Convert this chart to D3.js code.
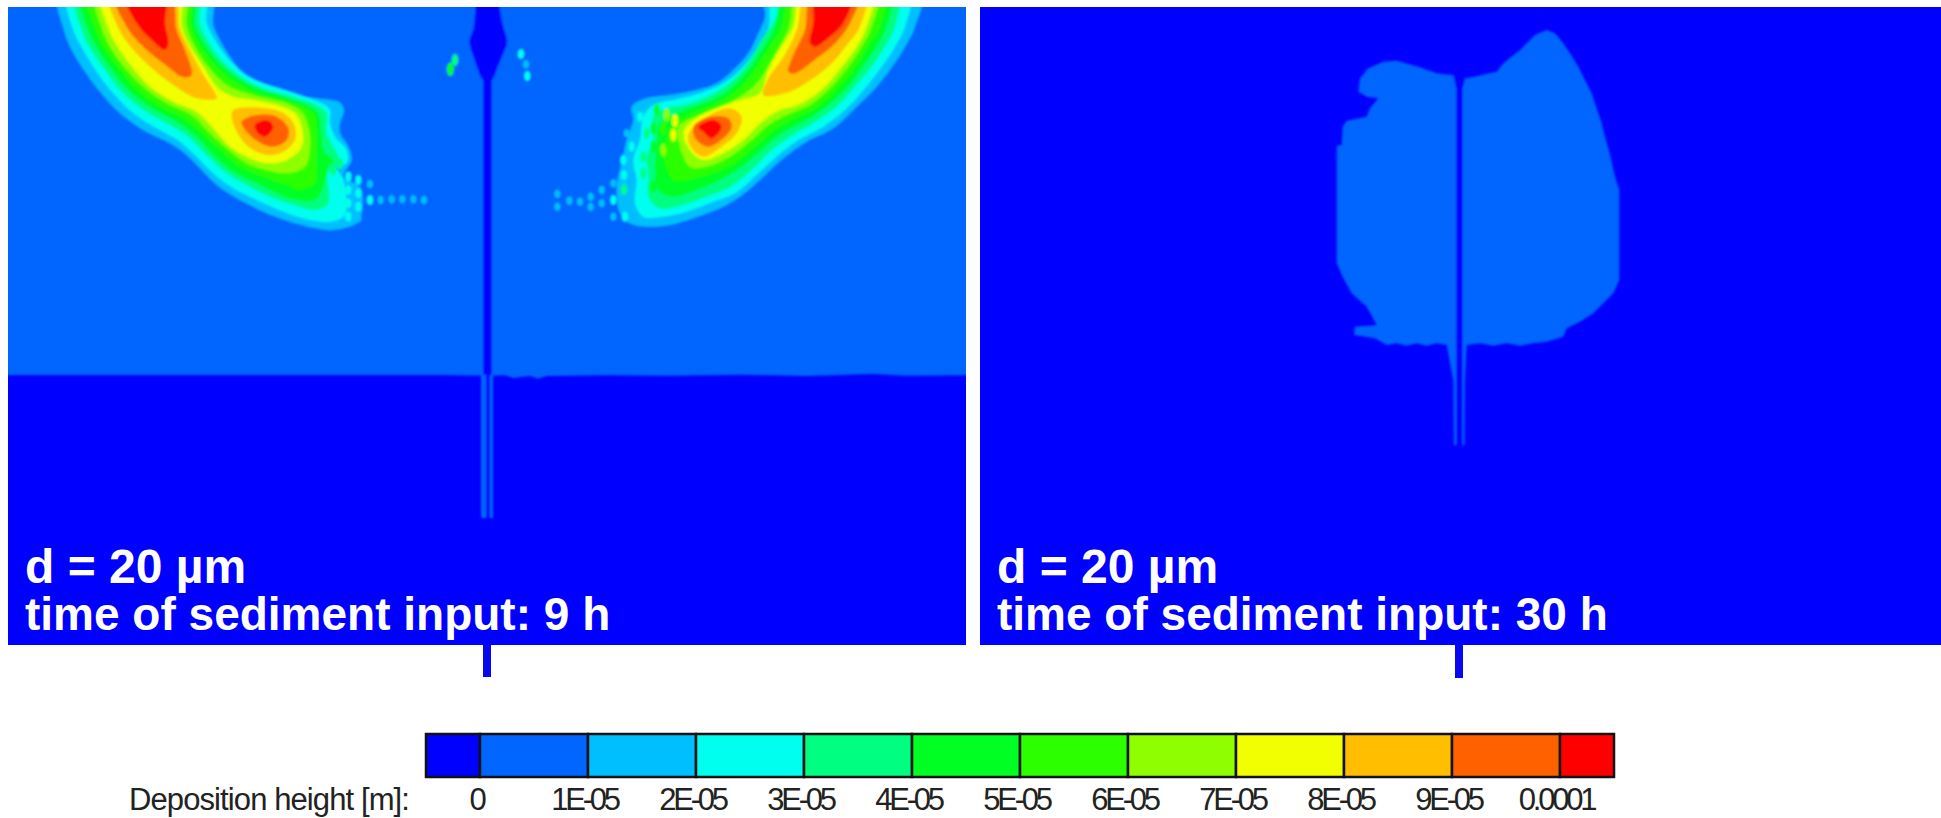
<!doctype html>
<html lang="en">
<head>
<meta charset="utf-8">
<script src="https://d3js.org/d3.v7.min.js"></script>
<style>
  body { margin: 0; background: #fff; }
  svg { display: block; }
  text { font-family: "Liberation Sans", Arial, sans-serif; }
</style>
</head>
<body>
<div id="chart"></div>
<script>
// contour levels and legend
var levels = [0, 1e-5, 2e-5, 3e-5, 4e-5, 5e-5, 6e-5, 7e-5, 8e-5, 9e-5, 1e-4];
var palette = ['#0000ff', '#0066ff', '#00bfff', '#00ffee', '#00ff80', '#00ff22', '#2bff00', '#8fff00', '#f2ff00', '#ffbf00', '#ff6000', '#ff0000'];
var tickLabels = ['0', '1E-05', '2E-05', '3E-05', '4E-05', '5E-05', '6E-05', '7E-05', '8E-05', '9E-05', '0.0001'];
var legendTitle = 'Deposition height [m]:';
var notes = [['d = 20 µm', 'time of sediment input: 9 h'], ['d = 20 µm', 'time of sediment input: 30 h']];

// contours, in sheet units (3 per pixel of the crop they were read on)
// left panel, left crescent
var leftL2 = [[178,-20],[190,85],[215,150],[255,215],[300,275],[355,335],[430,390],[510,430],[560,465],[610,515],[650,555],[720,600],[790,635],[870,665],[950,685],[1000,690],[1070,670],[1085,640],[1080,560],[1030,530],[1055,480],[1045,440],[1020,400],[1020,370],[1032,330],[1020,308],[950,295],[880,285],[810,265],[750,235],[700,185],[665,130],[640,75],[632,-20]];
var leftL3 = [[205,-20],[220,90],[250,150],[290,215],[340,280],[400,340],[470,385],[540,425],[590,470],[640,520],[700,565],[770,600],[850,635],[930,660],[990,665],[1030,650],[1040,620],[1030,540],[1010,500],[1040,490],[1040,450],[1005,410],[990,370],[990,330],[965,310],[870,275],[790,250],[730,220],[680,170],[645,120],[620,70],[610,-20]];
var leftL4 = [[228,-20],[245,90],[270,145],[315,210],[365,275],[430,330],[500,370],[565,410],[620,465],[680,520],[740,555],[810,590],[880,615],[950,630],[985,610],[985,520],[1020,490],[1000,440],[980,400],[980,340],[950,315],[880,290],[790,265],[715,225],[660,175],[625,125],[600,70],[592,-20]];
var leftL5 = [[245,-20],[262,85],[292,145],[335,210],[390,275],[455,325],[530,365],[590,410],[645,470],[700,515],[770,550],[830,580],[890,600],[945,600],[970,560],[985,500],[1010,480],[975,460],[965,400],[955,340],[920,315],[850,290],[770,265],[700,225],[650,180],[610,125],[585,75],[578,-20]];
var leftL6 = [[265,-20],[285,85],[315,150],[360,210],[415,275],[480,320],[550,355],[610,405],[665,455],[720,500],[790,530],[860,555],[900,570],[945,550],[950,480],[950,400],[940,340],[910,320],[850,300],[760,275],[690,235],[640,190],[600,135],[575,80],[565,-20]];
var leftL7 = [[290,-20],[305,85],[335,150],[380,210],[435,265],[500,310],[575,345],[625,395],[680,445],[740,490],[800,510],[860,520],[915,500],[930,440],[925,380],[905,335],[860,310],[800,295],[740,280],[680,255],[625,200],[585,140],[560,80],[550,-20]];
var leftL8 = [[305,-20],[325,85],[355,145],[400,205],[450,260],[520,305],[590,335],[640,385],[690,440],[750,475],[810,490],[860,480],[905,440],[905,380],[885,340],[830,315],[760,300],[700,290],[655,265],[610,200],[565,130],[545,80],[535,-20]];
var leftL9 = [[330,-20],[355,85],[400,150],[450,200],[520,255],[590,295],[650,295],[640,270],[605,215],[570,150],[540,85],[522,-20]];
var leftL9b = [[700,330],[800,325],[860,345],[885,380],[885,420],[850,455],[800,465],[745,440],[710,395],[695,355]];
var leftL10 = [[345,-20],[380,80],[430,140],[490,190],[550,232],[575,225],[555,150],[530,90],[510,-20]];
var leftL10b = [[725,365],[770,345],[830,350],[865,385],[860,420],[820,440],[775,425],[740,395]];
var leftL11 = [[375,-20],[410,70],[450,115],[495,150],[505,130],[495,70],[495,-20]];
var leftL11b = [[765,375],[800,360],[820,380],[795,410],[770,395]];

// left panel, right crescent
var rightL2 = [[1440,-20],[1425,80],[1395,140],[1360,195],[1310,260],[1250,320],[1180,385],[1100,425],[1030,475],[970,530],[900,590],[840,625],[760,655],[690,675],[620,680],[570,670],[540,640],[530,560],[545,490],[560,420],[580,360],[575,320],[620,295],[690,285],[770,270],[830,250],[880,210],[925,160],[955,100],[975,50],[975,-20]];
var rightL3 = [[1405,-20],[1395,80],[1365,140],[1325,200],[1275,265],[1215,330],[1150,380],[1075,420],[1015,465],[955,520],[885,580],[820,605],[740,635],[670,650],[610,650],[585,610],[590,540],[580,480],[600,420],[610,350],[640,315],[700,300],[780,280],[850,250],[900,210],[945,155],[985,85],[1005,-20]];
var rightL4 = [[1370,-20],[1365,80],[1335,140],[1295,200],[1245,260],[1190,320],[1120,370],[1050,410],[990,455],[935,510],[865,565],[800,590],[730,615],[660,625],[625,590],[625,530],[620,470],[640,420],[640,350],[680,325],[750,310],[830,275],[885,235],[930,180],[970,110],[1005,60],[1030,-20]];
var rightL5 = [[1350,-20],[1340,80],[1310,140],[1265,205],[1220,265],[1160,320],[1090,365],[1025,400],[965,450],[905,500],[840,540],[770,570],[700,590],[655,570],[645,510],[650,440],[660,370],[720,335],[790,310],[860,275],[920,215],[965,150],[1000,90],[1045,-20]];
var rightL6 = [[1330,-20],[1320,80],[1285,140],[1245,205],[1195,265],[1135,320],[1065,355],[1005,390],[945,440],[885,490],[820,520],[745,540],[700,540],[675,490],[680,420],[700,370],[780,330],[850,300],[920,240],[975,160],[1020,90],[1060,-20]];
var rightL7 = [[1310,-20],[1295,80],[1265,140],[1225,200],[1170,265],[1110,315],[1040,345],[985,375],[935,420],[870,470],[800,500],[750,500],[720,440],[715,380],[780,345],[840,320],[900,290],[955,245],[1000,170],[1045,90],[1075,-20]];
var rightL8 = [[1295,-20],[1280,80],[1250,140],[1205,200],[1150,265],[1085,310],[1010,335],[960,370],[910,420],[850,460],[790,480],[750,450],[730,400],[760,360],[830,325],[900,300],[960,280],[985,210],[1030,130],[1060,80],[1085,-20]];
var rightL9 = [[1275,-20],[1260,80],[1225,130],[1180,185],[1120,235],[1050,275],[970,285],[985,235],[1030,170],[1070,90],[1100,-20]];
var rightL9b = [[745,405],[800,350],[870,325],[905,350],[890,400],[845,440],[790,470],[755,445]];
var rightL10 = [[1255,-20],[1230,70],[1190,125],[1130,175],[1065,220],[1045,215],[1060,165],[1095,90],[1115,-20]];
var rightL10b = [[760,380],[810,350],[865,355],[875,380],[850,415],[805,440],[770,420]];
var rightL11 = [[1235,-20],[1210,70],[1170,110],[1125,140],[1110,130],[1120,70],[1130,-20]];
var rightL11b = [[775,380],[820,360],[845,380],[815,415],[790,395]];

// isolated spots: x, y, deposition
var leftSpots = [[1005,470,3e-5],[1020,490,3e-5],[1000,510,3e-5],[1045,530,2e-5],[1045,570,2e-5],[1045,610,2e-5],[1045,650,2e-5],[1075,540,2e-5],[1075,580,2e-5],[1075,620,2e-5],[1075,655,1e-5],[1110,552,1e-5],[1110,600,2e-5],[1142,600,1e-5],[1175,598,1e-5],[1207,598,1e-5],[1240,598,1e-5],[1272,600,1e-5],[1365,180,3e-5],[1352,207,4e-5]];
var rightSpots = [[352,582,1e-5],[352,620,1e-5],[388,602,1e-5],[420,605,1e-5],[452,590,1e-5],[452,620,1e-5],[485,570,1e-5],[485,610,1e-5],[520,550,1e-5],[520,600,2e-5],[520,650,1e-5],[552,525,2e-5],[552,568,3e-5],[555,650,2e-5],[243,162,2e-5],[258,193,1e-5],[262,228,2e-5],[45,180,3e-5],[30,208,4e-5],[560,400,1e-5],[575,440,2e-5],[550,480,2e-5],[600,350,2e-5],[650,330,4e-5],[680,345,6e-5],[705,362,7e-5],[670,385,5e-5],[700,405,7e-5],[640,440,4e-5],[670,450,6e-5],[610,470,3e-5],[620,400,3e-5],[640,385,4e-5],[610,520,3e-5],[640,560,4e-5]];

// seabed edge and the channel in the left panel
var shelfEdge = [[0,-20],[1640,-20],[1640,1125],[1400,1127],[1300,1122],[1100,1128],[900,1124],[700,1127],[500,1126],[320,1128],[294,1136],[270,1128],[219,1134],[195,1126],[150,1127],[0,1125]];
var stemGlow = [[123,1100],[159,1100],[159,1554],[123,1554]];
var stemBulb = [[115,-20],[170,-20],[182,40],[190,80],[202,125],[188,165],[172,205],[156,240],[129,240],[112,205],[100,170],[88,125],[100,85],[105,40]];
var stemDark = [[129,200],[156,200],[156,1125],[150,1125],[150,1554],[138,1554],[138,1125],[129,1125]];

// right panel, deposit area and its channel
var deposit = [[515,135],[470,130],[420,112],[350,92],[310,95],[265,115],[240,145],[235,185],[260,200],[295,205],[270,235],[260,260],[200,272],[188,290],[185,345],[170,348],[170,700],[190,745],[215,790],[260,830],[290,885],[225,890],[222,915],[285,925],[320,945],[350,940],[380,947],[410,940],[440,947],[470,940],[500,945],[510,1000],[520,1050],[522,1245],[554,1245],[555,1050],[560,945],[600,940],[640,947],[680,940],[720,947],[760,940],[800,935],[850,920],[860,895],[900,875],[940,850],[1000,790],[1018,750],[1018,480],[1005,440],[995,395],[985,355],[975,320],[965,280],[950,235],[935,190],[915,150],[895,110],[870,70],[850,40],[825,10],[800,0],[765,15],[720,60],[670,100],[650,125],[560,145]];
var depositChannel = [[518,128],[558,140],[548,175],[548,1245],[528,1245],[528,175]];

var width = 1941, height = 818;
var panels = [{x0: 8, x1: 966}, {x0: 980, x1: 1941}];
var panelTop = 7, panelBottom = 645;

var color = d3.scaleThreshold().domain(levels).range(palette);

// one scale per digitising sheet
function sheet(x0, w) { return d3.scaleLinear().domain([0, w * 3]).range([x0, x0 + w]); }
var xLeft = sheet(0, 500), xRight = sheet(440, 520), xDeposit = sheet(1280, 360);
var yTop = d3.scaleLinear().domain([0, 750]).range([0, 250]);
var yDeposit = d3.scaleLinear().domain([0, 1320]).range([30, 470]);
var spotHeight = d3.scaleLinear().domain([1e-5, 4e-5]).range([4, 6.5]).clamp(true);

var svg = d3.select('#chart').append('svg').attr('width', width).attr('height', height);
var defs = svg.append('defs');
defs.append('filter').attr('id', 'soft').append('feGaussianBlur').attr('stdDeviation', 0.8);

function smooth(xs, ys) {
  return d3.line().x(function(d) { return xs(d[0]); }).y(function(d) { return ys(d[1]); }).curve(d3.curveCatmullRomClosed.alpha(0.5));
}
function plain(xs, ys) {
  return d3.line().x(function(d) { return xs(d[0]); }).y(function(d) { return ys(d[1]); }).curve(d3.curveLinearClosed);
}

panels.forEach(function(p, i) {
  defs.append('clipPath').attr('id', 'clip' + i).append('rect')
    .attr('x', p.x0).attr('y', panelTop).attr('width', p.x1 - p.x0).attr('height', panelBottom - panelTop);
  svg.append('rect').attr('x', p.x0).attr('y', panelTop).attr('width', p.x1 - p.x0).attr('height', panelBottom - panelTop)
    .attr('fill', color(-1));
});

// left panel field
var left = svg.append('g').attr('clip-path', 'url(#clip0)').append('g').attr('filter', 'url(#soft)');
left.append('path').attr('d', plain(xRight, yTop)(shelfEdge)).attr('fill', color(0));
left.append('rect').attr('x', xLeft(0)).attr('y', yTop(0)).attr('width', xRight(0) - xLeft(0) + 10).attr('height', yTop(1125)).attr('fill', color(0));

var leftBands = [[1e-5, leftL2], [2e-5, leftL3], [3e-5, leftL4], [4e-5, leftL5], [5e-5, leftL6], [6e-5, leftL7], [7e-5, leftL8], [8e-5, leftL9], [8e-5, leftL9b], [9e-5, leftL10], [9e-5, leftL10b], [1e-4, leftL11], [1e-4, leftL11b]];
var rightBands = [[1e-5, rightL2], [2e-5, rightL3], [3e-5, rightL4], [4e-5, rightL5], [5e-5, rightL6], [6e-5, rightL7], [7e-5, rightL8], [8e-5, rightL9], [8e-5, rightL9b], [9e-5, rightL10], [9e-5, rightL10b], [1e-4, rightL11], [1e-4, rightL11b]];

left.selectAll('.bandL').data(leftBands).enter().append('path').attr('class', 'bandL')
  .attr('d', function(d) { return smooth(xLeft, yTop)(d[1]); })
  .attr('fill', function(d) { return color(d[0]); });
left.selectAll('.bandR').data(rightBands).enter().append('path').attr('class', 'bandR')
  .attr('d', function(d) { return smooth(xRight, yTop)(d[1]); })
  .attr('fill', function(d) { return color(d[0]); });

left.selectAll('.spotL').data(leftSpots).enter().append('ellipse').attr('class', 'spotL')
  .attr('cx', function(d) { return xLeft(d[0]); }).attr('cy', function(d) { return yTop(d[1]); })
  .attr('rx', 3).attr('ry', function(d) { return spotHeight(d[2]); }).attr('fill', function(d) { return color(d[2]); });
left.selectAll('.spotR').data(rightSpots).enter().append('ellipse').attr('class', 'spotR')
  .attr('cx', function(d) { return xRight(d[0]); }).attr('cy', function(d) { return yTop(d[1]); })
  .attr('rx', 3).attr('ry', function(d) { return spotHeight(d[2]); }).attr('fill', function(d) { return color(d[2]); });

left.append('path').attr('d', plain(xRight, yTop)(stemGlow)).attr('fill', color(0));
left.append('path').attr('d', smooth(xRight, yTop)(stemBulb)).attr('fill', color(-1));
left.append('path').attr('d', plain(xRight, yTop)(stemDark)).attr('fill', color(-1));

// right panel field
var right = svg.append('g').attr('clip-path', 'url(#clip1)').append('g').attr('filter', 'url(#soft)');
right.append('path').attr('d', plain(xDeposit, yDeposit)(deposit)).attr('fill', color(0));
right.append('path').attr('d', plain(xDeposit, yDeposit)(depositChannel)).attr('fill', color(-1));

// channel stubs below the panels
svg.selectAll('.stub').data([[487, 645, 677], [1459, 645, 678]]).enter().append('line').attr('class', 'stub')
  .attr('x1', function(d) { return d[0]; }).attr('x2', function(d) { return d[0]; })
  .attr('y1', function(d) { return d[1]; }).attr('y2', function(d) { return d[2]; })
  .attr('stroke', '#0808f0').attr('stroke-width', 8);

// panel notes
panels.forEach(function(p, i) {
  var g = svg.append('g').attr('fill', '#fff').attr('font-weight', 'bold');
  g.append('text').attr('x', p.x0 + 17).attr('y', 583).attr('font-size', 48).text(notes[i][0]);
  g.append('text').attr('x', p.x0 + 17).attr('y', 630).attr('font-size', 46).text(notes[i][1]);
});

// legend: each box spans the gap between two levels, end boxes are half a step wide
var legendX = d3.scaleLinear().domain([-5e-6, 1.05e-4]).range([426, 1614]);
var legendTop = 734, legendBottom = 777;
var edges = [-5e-6].concat(levels, [1.05e-4]);
var boxes = d3.pairs(edges);

svg.selectAll('.box').data(boxes).enter().append('rect').attr('class', 'box')
  .attr('x', function(d) { return legendX(d[0]); })
  .attr('y', legendTop)
  .attr('width', function(d) { return legendX(d[1]) - legendX(d[0]); })
  .attr('height', legendBottom - legendTop)
  .attr('fill', function(d) { return color((d[0] + d[1]) / 2); })
  .attr('stroke', '#111').attr('stroke-width', 2.5);

var axis = d3.axisBottom(legendX).tickValues(levels).tickSize(0)
  .tickFormat(function(d, i) { return tickLabels[i]; });
var axisG = svg.append('g').attr('transform', 'translate(-4,' + legendBottom + ')').call(axis);
axisG.select('.domain').remove();
axisG.selectAll('text').attr('font-size', 31).attr('letter-spacing', -3.2).attr('fill', '#222')
  .attr('y', 33).attr('dy', 0).style('font-family', '"Liberation Sans", Arial, sans-serif');

svg.append('text').attr('x', 129).attr('y', 810).attr('font-size', 31).attr('letter-spacing', -0.9).attr('fill', '#222').text(legendTitle);
</script>
</body>
</html>
